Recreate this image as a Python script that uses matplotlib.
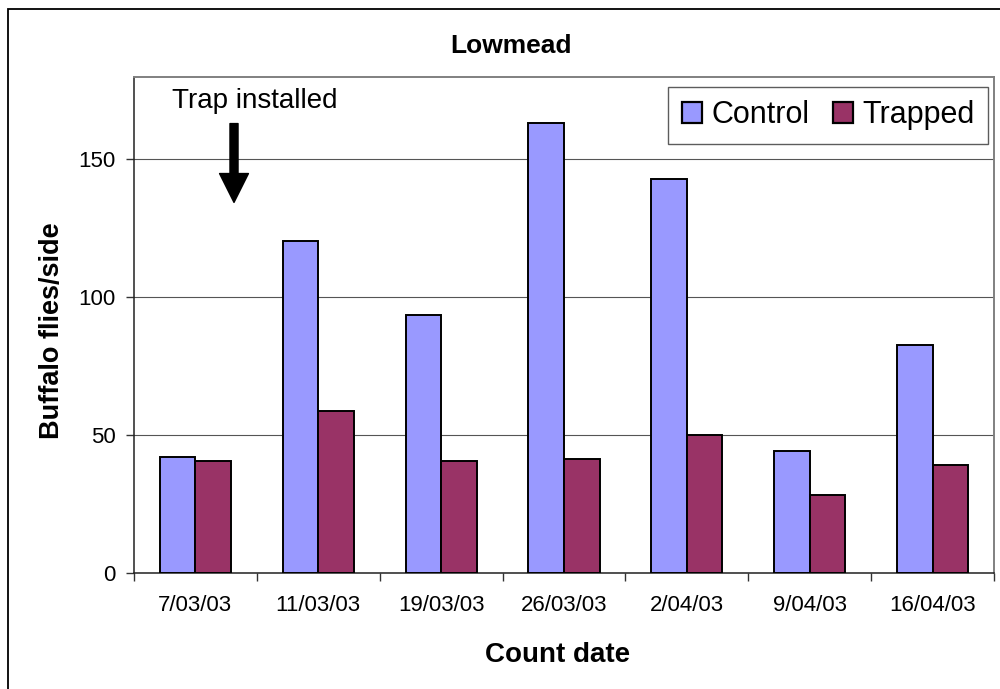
import matplotlib
matplotlib.use("Agg")
import matplotlib.pyplot as plt
import matplotlib.patches as mpatches
from matplotlib.ticker import FixedLocator
import numpy as np

plt.rcParams['font.family'] = ['Liberation Sans', 'DejaVu Sans']

title = "Lowmead"
dates = ['7/03/03', '11/03/03', '19/03/03', '26/03/03', '2/04/03', '9/04/03', '16/04/03']
control = [42.0, 120.3, 93.5, 163.2, 142.8, 44.2, 82.6]
trapped = [40.6, 58.7, 40.6, 41.3, 50.0, 28.3, 39.1]
yticks = [0, 50, 100, 150]

c_control = '#9999FF'
c_trapped = '#993366'

W, H = 1000, 689
fig = plt.figure(figsize=(10, 6.89), dpi=100)
ax = fig.add_axes([134 / W, 1 - 573 / H, (994 - 134) / W, (573 - 76.7) / H])

x = np.arange(len(dates))
w = 0.29
ax.bar(x - w / 2, control, w, color=c_control, edgecolor='black', linewidth=1.4, label='Control', zorder=3)
ax.bar(x + w / 2, trapped, w, color=c_trapped, edgecolor='black', linewidth=1.4, label='Trapped', zorder=3)

ax.set_xlim(-0.5, len(dates) - 0.5)
ax.set_ylim(0, 180)
ax.set_yticks(yticks)
ax.set_yticklabels([str(t) for t in yticks], fontsize=16)
ax.set_xticks(x)
ax.set_xticklabels(dates, fontsize=16)
ax.xaxis.set_minor_locator(FixedLocator(np.arange(-0.5, len(dates), 1.0)))
ax.tick_params(axis='x', which='major', length=0, pad=16)
ax.tick_params(axis='x', which='minor', length=6, width=1, color='#333333', direction='out')
ax.tick_params(axis='y', which='major', length=6, width=1, color='#333333', direction='out', pad=7)

ax.yaxis.grid(True, color='#555555', linewidth=0.8, zorder=0)
ax.set_axisbelow(True)
for s in ['left', 'bottom']:
    ax.spines[s].set_color('#222222')
    ax.spines[s].set_linewidth(1.1)
for s in ['top', 'right']:
    ax.spines[s].set_color('#808080')
    ax.spines[s].set_linewidth(1.4)

fig.text(511 / W, 1 - 53.3 / H, title, fontsize=19, fontweight='bold', ha='center', va='baseline')
fig.text(558 / W, 1 - 662 / H, 'Count date', fontsize=20, fontweight='bold', ha='center', va='baseline')
fig.text(52 / W, 1 - 331 / H, 'Buffalo flies/side', fontsize=19.5, fontweight='bold',
         rotation=90, ha='center', va='center')

ax.text(0.481, 168.5, 'Trap installed', fontsize=20, ha='center', va='baseline')
ax.annotate('', xy=(0.314, 134.4), xytext=(0.314, 163.0),
            arrowprops=dict(arrowstyle='simple,head_length=1.04,head_width=1.04,tail_width=0.29',
                            mutation_scale=20, color='black', shrinkA=0, shrinkB=0))

leg = ax.legend(loc='upper right', bbox_to_anchor=(988 / W, 1 - 86.7 / H), bbox_transform=fig.transFigure,
                ncol=2, fontsize=22, frameon=True, fancybox=False, shadow=False, borderaxespad=0,
                handlelength=0.65, handleheight=0.7, handletextpad=0.3, columnspacing=0.78,
                borderpad=0.45)
leg.get_frame().set_edgecolor('#333333')
leg.get_frame().set_linewidth(1.0)
for p in leg.get_patches():
    p.set_linewidth(1.6)

border = mpatches.Rectangle((8 / W, -0.05), 1.1, 1 - 9 / H + 0.05, transform=fig.transFigure,
                            fill=False, edgecolor='black', linewidth=1.3)
fig.patches.append(border)

fig.savefig('out.png', dpi=100)
